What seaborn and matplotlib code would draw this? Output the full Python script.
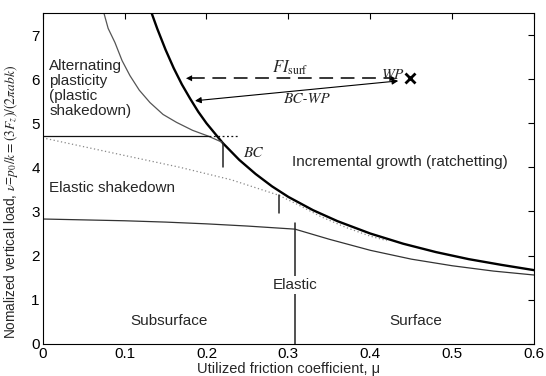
import matplotlib
matplotlib.use("Agg")
import matplotlib.pyplot as plt
import seaborn as sns

# ---------------- data ----------------
# surface ratchetting limit (thick curve)
mu_ratchet = [0.133, 0.14, 0.15, 0.16, 0.17, 0.18, 0.19, 0.20, 0.22, 0.24, 0.26,
              0.28, 0.30, 0.33, 0.36, 0.40, 0.44, 0.48, 0.52, 0.56, 0.60]
v_ratchet = [7.50, 7.14, 6.67, 6.25, 5.88, 5.56, 5.26, 5.00, 4.55, 4.17, 3.85,
             3.57, 3.33, 3.03, 2.78, 2.50, 2.27, 2.08, 1.92, 1.79, 1.67]
# alternating plasticity limit (thin upper curve)
mu_alt = [0.0748, 0.080, 0.0883, 0.097, 0.1066, 0.118, 0.131, 0.147, 0.1635, 0.183, 0.202, 0.219]
v_alt = [7.50, 7.15, 6.83, 6.42, 6.08, 5.75, 5.47, 5.20, 5.02, 4.84, 4.71, 4.57]
# subsurface elastic shakedown limit (dotted)
mu_esd = [0.0, 0.05, 0.10, 0.168, 0.23, 0.288, 0.31, 0.34, 0.37, 0.40, 0.42]
v_esd = [4.67, 4.47, 4.27, 4.00, 3.72, 3.37, 3.17, 2.88, 2.64, 2.44, 2.34]
# elastic limit (thin lower curve)
mu_el = [0.0, 0.05, 0.10, 0.15, 0.20, 0.25, 0.308, 0.35, 0.40, 0.45, 0.50, 0.55, 0.60]
v_el = [2.83, 2.81, 2.79, 2.76, 2.72, 2.67, 2.60, 2.37, 2.12, 1.92, 1.77, 1.65, 1.56]
# subsurface plastic shakedown level
mu_psd = [0.0, 0.203]
v_psd = [4.71, 4.71]
mu_psd_ext = [0.203, 0.239]
v_psd_ext = [4.71, 4.71]
# markers / dividers
mu_bc_mark = [0.2197, 0.2197]
v_bc_mark = [4.00, 4.56]
mu_mark2 = [0.288, 0.288]
v_mark2 = [2.96, 3.375]
mu_divider = [0.308, 0.308]
v_divider = [0.0, 2.74]
# working point and distances
wp_mu, wp_v = 0.448, 6.02
fi_left_mu = 0.1716
bc_wp_mu = [0.186, 0.434]
bc_wp_v = [5.51, 5.96]

x_ticks = [0, 0.1, 0.2, 0.3, 0.4, 0.5, 0.6]
x_ticklabels = ["0", "0.1", "0.2", "0.3", "0.4", "0.5", "0.6"]
y_ticks = [0, 1, 2, 3, 4, 5, 6, 7]

# ---------------- style ----------------
sns.set_theme(style="white")
plt.rcParams["font.family"] = ["Liberation Sans", "DejaVu Sans"]
plt.rcParams["mathtext.fontset"] = "stix"

fig = plt.figure(figsize=(5.46, 3.76), dpi=100)
ax = fig.add_axes([0.078, 0.0855, 0.9005, 0.880])

lc = "#111111"
sns.lineplot(x=mu_ratchet, y=v_ratchet, ax=ax, sort=False, estimator=None,
             color="black", lw=1.7)
sns.lineplot(x=mu_alt, y=v_alt, ax=ax, sort=False, estimator=None,
             color="#555555", lw=0.9)
sns.lineplot(x=mu_esd, y=v_esd, ax=ax, sort=False, estimator=None,
             color="#888888", lw=0.9, linestyle=(0, (1, 2)))
sns.lineplot(x=mu_el, y=v_el, ax=ax, sort=False, estimator=None,
             color="#333333", lw=0.9)
sns.lineplot(x=mu_psd, y=v_psd, ax=ax, sort=False, estimator=None,
             color=lc, lw=0.9)
sns.lineplot(x=mu_psd_ext, y=v_psd_ext, ax=ax, sort=False, estimator=None,
             color=lc, lw=0.9, linestyle=(0, (1.5, 2)))
for mx, my in [(mu_bc_mark, v_bc_mark), (mu_mark2, v_mark2), (mu_divider, v_divider)]:
    sns.lineplot(x=mx, y=my, ax=ax, sort=False, estimator=None, color="#222222", lw=1.1)

# FI_surf dashed double arrow
ax.plot([fi_left_mu + 0.01, wp_mu - 0.024], [wp_v, wp_v], color="black", lw=1.1,
        linestyle=(0, (9, 5)))
ax.annotate("", xy=(fi_left_mu, wp_v), xytext=(fi_left_mu + 0.02, wp_v),
            arrowprops=dict(arrowstyle="-|>", color="black", lw=0, mutation_scale=11))
ax.annotate("", xy=(wp_mu - 0.014, wp_v), xytext=(wp_mu - 0.034, wp_v),
            arrowprops=dict(arrowstyle="-|>", color="black", lw=0, mutation_scale=11))
# BC-WP solid double arrow
ax.annotate("", xy=(bc_wp_mu[0], bc_wp_v[0]), xytext=(bc_wp_mu[1], bc_wp_v[1]),
            arrowprops=dict(arrowstyle="<|-|>", color="black", lw=0.8,
                            mutation_scale=9, shrinkA=0, shrinkB=0))
ax.plot([wp_mu], [wp_v], marker="x", color="black", markersize=7, mew=2)

# texts
fs = 11
serif = dict(family="STIXGeneral", style="italic")
ax.text(0.302, 6.25, r"$FI_{\mathrm{surf}}$", ha="center", va="center", fontsize=12)
ax.text(0.428, 6.1, r"$WP$", ha="center", va="center", fontsize=11)
ax.text(0.322, 5.56, "BC-WP", ha="center", va="center", fontsize=11, **serif)
ax.text(0.245, 4.33, "BC", ha="left", va="center", fontsize=11, **serif)
ax.text(0.008, 5.79, "Alternating\nplasticity\n(plastic\nshakedown)", ha="left",
        va="center", fontsize=fs, linespacing=1.09)
ax.text(0.008, 3.54, "Elastic shakedown", ha="left", va="center", fontsize=fs)
ax.text(0.304, 4.13, "Incremental growth (ratchetting)", ha="left", va="center", fontsize=fs)
ax.text(0.308, 1.34, "Elastic", ha="center", va="center", fontsize=fs,
        bbox=dict(facecolor="white", edgecolor="none", pad=1.5), zorder=5)
ax.text(0.154, 0.51, "Subsurface", ha="center", va="center", fontsize=fs)
ax.text(0.455, 0.51, "Surface", ha="center", va="center", fontsize=fs)

# axes
ax.set_xlim(0, 0.6)
ax.set_ylim(0, 7.5)
ax.set_xticks(x_ticks)
ax.set_xticklabels(x_ticklabels)
ax.set_yticks(y_ticks)
ax.tick_params(direction="in", length=4, width=0.8, top=True, right=True,
               labelsize=11, colors="black", pad=2)
for s in ax.spines.values():
    s.set_visible(True)
    s.set_color("black")
    s.set_linewidth(0.8)
ax.set_xlabel("Utilized friction coefficient, μ", fontsize=10.5)
ax.xaxis.set_label_coords(0.5, -0.055)
ax.set_ylabel(r"Nomalized vertical load, $\nu$=$p_0/k=(3F_z)/(2\pi abk)$", fontsize=9.8)
ax.yaxis.set_label_coords(-0.045, 0.43)

fig.savefig("out.png", dpi=100)
